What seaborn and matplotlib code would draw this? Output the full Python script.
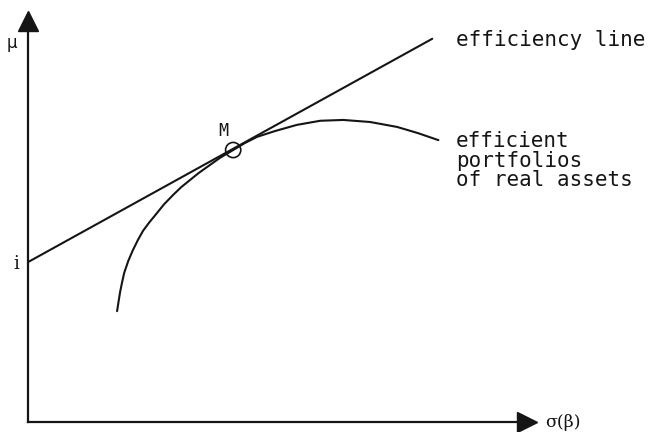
import numpy as np
import pandas as pd
import seaborn as sns
import matplotlib
matplotlib.use("Agg")
import matplotlib.pyplot as plt

# efficiency line (from i on the mu axis, through M)
line_sigma = [0.0, 7.94]
line_mu = [3.88, 9.30]

# efficient portfolios of real assets
curve_sigma = [1.75, 1.78, 1.81, 1.85, 1.89, 1.97, 2.06, 2.16, 2.26, 2.38,
               2.50, 2.67, 2.85, 3.01, 3.18, 3.35, 3.52, 3.77, 4.03, 4.26,
               4.50, 4.85, 5.28, 5.74, 6.19, 6.72, 7.25, 7.66, 8.06]
curve_mu = [2.69, 2.93, 3.16, 3.40, 3.62, 3.91, 4.17, 4.42, 4.64, 4.84,
            5.02, 5.28, 5.51, 5.70, 5.87, 6.04, 6.19, 6.41, 6.60, 6.77,
            6.92, 7.06, 7.21, 7.31, 7.33, 7.28, 7.16, 7.01, 6.84]

# market portfolio M
m_sigma = [4.03]
m_mu = [6.60]

ink = "#151515"

sns.set_style("white")

fig = plt.figure(figsize=(6.49, 4.32), dpi=100)
ax = fig.add_axes([0.0431, 0.0231, 0.7689, 0.9282])

line_df = pd.DataFrame({"sigma": line_sigma, "mu": line_mu})
curve_df = pd.DataFrame({"sigma": curve_sigma, "mu": curve_mu})

sns.lineplot(data=line_df, x="sigma", y="mu", color=ink, lw=1.5, ax=ax)
sns.lineplot(data=curve_df, x="sigma", y="mu", color=ink, lw=1.5, ax=ax)
sns.scatterplot(x=m_sigma, y=m_mu, s=120, facecolor="none",
                edgecolor=ink, linewidth=1.2, zorder=5, ax=ax)

ax.set_xlim(0, 9.80)
ax.set_ylim(0, 9.73)
ax.set_xticks([])
ax.set_yticks([])
ax.set_xlabel("")
ax.set_ylabel("")
sns.despine(ax=ax, top=True, right=True)
for side in ["left", "bottom"]:
    ax.spines[side].set_color(ink)
    ax.spines[side].set_linewidth(1.6)

# arrow heads on the axes
ax.plot(1, 0, ">", color=ink, ms=14, transform=ax.transAxes, clip_on=False)
ax.plot(0, 1, "^", color=ink, ms=14, transform=ax.transAxes, clip_on=False)

mono = "DejaVu Sans Mono"
ax.text(8.41, 9.27, "efficiency line", family=mono, fontsize=15,
        color=ink, ha="left", va="center")
ax.text(8.41, 6.34, "efficient\nportfolios\nof real assets", family=mono,
        fontsize=15, color=ink, ha="left", va="center", linespacing=0.98)
ax.text(3.83, 7.06, "M", family=mono, fontsize=12, color=ink,
        ha="center", va="center")
ax.text(-0.31, 9.20, "μ", family="DejaVu Sans", fontsize=12, color=ink,
        ha="center", va="center", clip_on=False)
ax.text(-0.22, 3.83, "i", family="DejaVu Serif", fontsize=13, color=ink,
        ha="center", va="center", clip_on=False)
ax.text(10.16, -0.02, "σ(β)", family="DejaVu Serif", fontsize=12.5,
        color=ink, ha="left", va="center", clip_on=False)

fig.savefig("out.png", dpi=100)
